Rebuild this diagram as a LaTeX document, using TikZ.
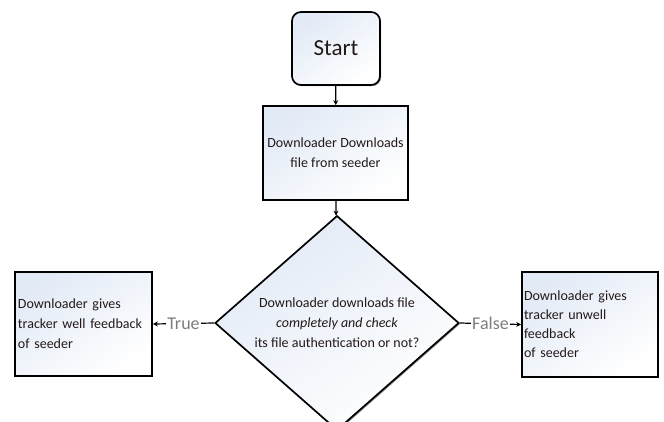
\documentclass[tikz,border=0pt]{standalone}
\usepackage{fontspec}
\setmainfont{Carlito}
\usetikzlibrary{shapes.geometric,arrows.meta,shadows}
\definecolor{txt}{RGB}{35,25,25}
\definecolor{fillblue}{RGB}{226,234,246}
\definecolor{lblgray}{RGB}{125,125,125}
\tikzset{
  x=1bp, y=-1bp,
  shapebox/.style={draw=black, line width=1.7bp, top color=fillblue, bottom color=white,
    shading angle=35, text=txt, font=\fontsize{14bp}{20bp}\selectfont, inner sep=2bp,
    drop shadow={shadow xshift=1.2bp, shadow yshift=-1.2bp, fill=black!70, opacity=0.6}},
  flowarrow/.style={draw=black, line width=1.2bp, -{Stealth[length=5bp,width=5bp]}},
  edgelabel/.style={text=lblgray, fill=white, font=\fontsize{18bp}{20bp}\selectfont, inner sep=1bp}
}
\begin{document}
\begin{tikzpicture}
\useasboundingbox (0,0) rectangle (664,421);
\node[shapebox, rounded corners=9bp, minimum width=88bp, minimum height=73bp,
  font=\fontsize{23bp}{26bp}\selectfont] (start) at (336,48.5) {Start};
\node[shapebox, minimum width=145bp, minimum height=94bp, align=center] (proc) at (335.5,153)
  {Downloader Downloads\\file from seeder};
\node[shapebox, diamond, minimum width=244bp, minimum height=200bp, inner sep=0bp, align=center,
  font=\fontsize{14bp}{20bp}\selectfont] (dec) at (337,323)
  {Downloader downloads file\\\textit{completely and check}\\its file authentication or not?};
\node[shapebox, minimum width=137bp, minimum height=104bp, text width=131bp, align=left,
  font=\fontsize{14bp}{20bp}\selectfont] (left) at (83.5,324)
  {Downloader gives\\tracker well feedback\\of seeder};
\node[shapebox, minimum width=136bp, minimum height=105bp, text width=132bp, align=left,
  inner sep=1bp, font=\fontsize{14bp}{19bp}\selectfont] (right) at (590,324.5)
  {Downloader gives\\tracker unwell\\feedback\\of seeder};
\draw[flowarrow] (start) -- (proc);
\draw[flowarrow] (proc) -- (dec);
\draw[flowarrow] (dec.west) -- node[edgelabel] {True} (left.east);
\draw[flowarrow] (dec.east) -- node[edgelabel] {False} (right.west);
\end{tikzpicture}
\end{document}
